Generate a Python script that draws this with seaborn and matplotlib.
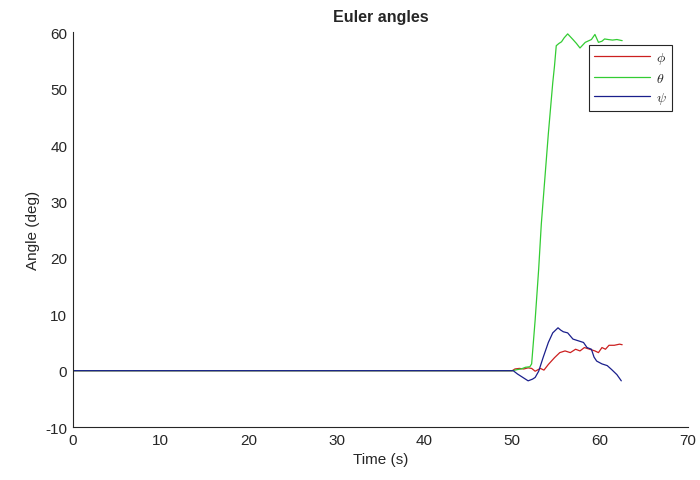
import pandas as pd
import numpy as np
import matplotlib
import matplotlib.pyplot as plt
import seaborn as sns

sns.set_style("white")
plt.rcParams["font.family"] = ["Liberation Sans", "DejaVu Sans"]
plt.rcParams["axes.linewidth"] = 0.8
plt.rcParams["axes.unicode_minus"] = False
plt.rcParams["mathtext.fontset"] = "cm"

# euler angles (deg)
phi_t = [0, 50.0, 50.3, 50.8, 51.3, 51.8, 52.2, 52.6, 53.2, 53.6, 54.1, 54.8, 55.4, 56.0,
         56.6, 57.2, 57.7, 58.2, 58.8, 59.4, 59.8, 60.2, 60.6, 61.0, 61.6, 62.2, 62.5]
phi_v = [0, 0, 0.3, 0.4, 0.3, 0.5, 0.4, -0.1, 0.4, 0.1, 1.1, 2.3, 3.2, 3.5,
         3.2, 3.8, 3.5, 4.1, 3.8, 3.5, 3.2, 4.1, 3.8, 4.5, 4.5, 4.7, 4.6]

theta_t = [0, 50.0, 50.6, 51.0, 51.5, 52.0, 52.2, 52.6, 53.0, 53.3, 53.7, 54.1, 54.6, 54.8,
           55.0, 55.3, 55.6, 55.9, 56.3, 56.6, 56.9, 57.3, 57.7, 58.3, 59.0, 59.4, 59.8,
           60.2, 60.5, 60.9, 61.4, 61.9, 62.5]
theta_v = [0, 0, 0.2, 0.3, 0.6, 0.7, 1.2, 9, 18, 26, 34, 42, 51, 54,
           57.6, 58.0, 58.3, 59.0, 59.7, 59.2, 58.7, 58.0, 57.2, 58.2, 58.7, 59.6, 58.2,
           58.4, 58.8, 58.7, 58.6, 58.7, 58.5]

psi_t = [0, 50.1, 50.6, 51.2, 51.8, 52.3, 52.6, 53.0, 53.5, 54.1, 54.6, 55.2, 55.5, 55.8,
         56.3, 56.9, 57.5, 58.1, 58.5, 59.0, 59.3, 59.6, 60.2, 60.8, 61.3, 61.9, 62.4]
psi_v = [0, 0, -0.6, -1.2, -1.8, -1.5, -1.2, -0.1, 2.3, 5.0, 6.7, 7.6, 7.2, 6.9,
         6.7, 5.6, 5.3, 5.0, 4.1, 3.8, 2.4, 1.7, 1.2, 0.9, 0.2, -0.7, -1.8]

series = [r'$\phi$', r'$\theta$', r'$\psi$']
colors = ['#cc2020', '#33cc33', '#1a1f8c']

df = pd.concat([
    pd.DataFrame({'t': phi_t, 'angle': phi_v, 'series': series[0]}),
    pd.DataFrame({'t': theta_t, 'angle': theta_v, 'series': series[1]}),
    pd.DataFrame({'t': psi_t, 'angle': psi_v, 'series': series[2]}),
], ignore_index=True)

fig = plt.figure(figsize=(7, 4.81), dpi=100)
ax = fig.add_axes([0.104, 0.110, 0.879, 0.821])
sns.lineplot(data=df, x='t', y='angle', hue='series', hue_order=series,
             palette=colors, estimator=None, sort=False, linewidth=0.9, ax=ax)

ax.set_xlim(0, 70)
ax.set_ylim(-10, 60)
ax.set_xticks(np.arange(0, 71, 10))
ax.set_yticks(np.arange(-10, 61, 10))
ax.tick_params(axis='both', direction='in', length=5, width=0.8,
               labelsize=11, colors='#262626', labelcolor='#262626', pad=4)
for s in ['top', 'right']:
    ax.spines[s].set_visible(False)
for s in ['left', 'bottom']:
    ax.spines[s].set_color('#262626')

ax.set_xlabel('Time (s)', fontsize=11, color='#262626')
ax.set_ylabel('Angle (deg)', fontsize=11, color='#262626')
ax.set_title('Euler angles', fontsize=11.5, fontweight='bold', pad=8)

h, l = ax.get_legend_handles_labels()
leg = ax.legend(h, l, loc='upper right', bbox_to_anchor=(0.974, 0.967),
                borderaxespad=0, fontsize=10, handlelength=4.0, fancybox=False,
                framealpha=1, edgecolor='#262626', labelspacing=0.35,
                borderpad=0.35, handletextpad=0.5)
leg.get_frame().set_linewidth(0.8)

fig.savefig('out.png', dpi=100)
